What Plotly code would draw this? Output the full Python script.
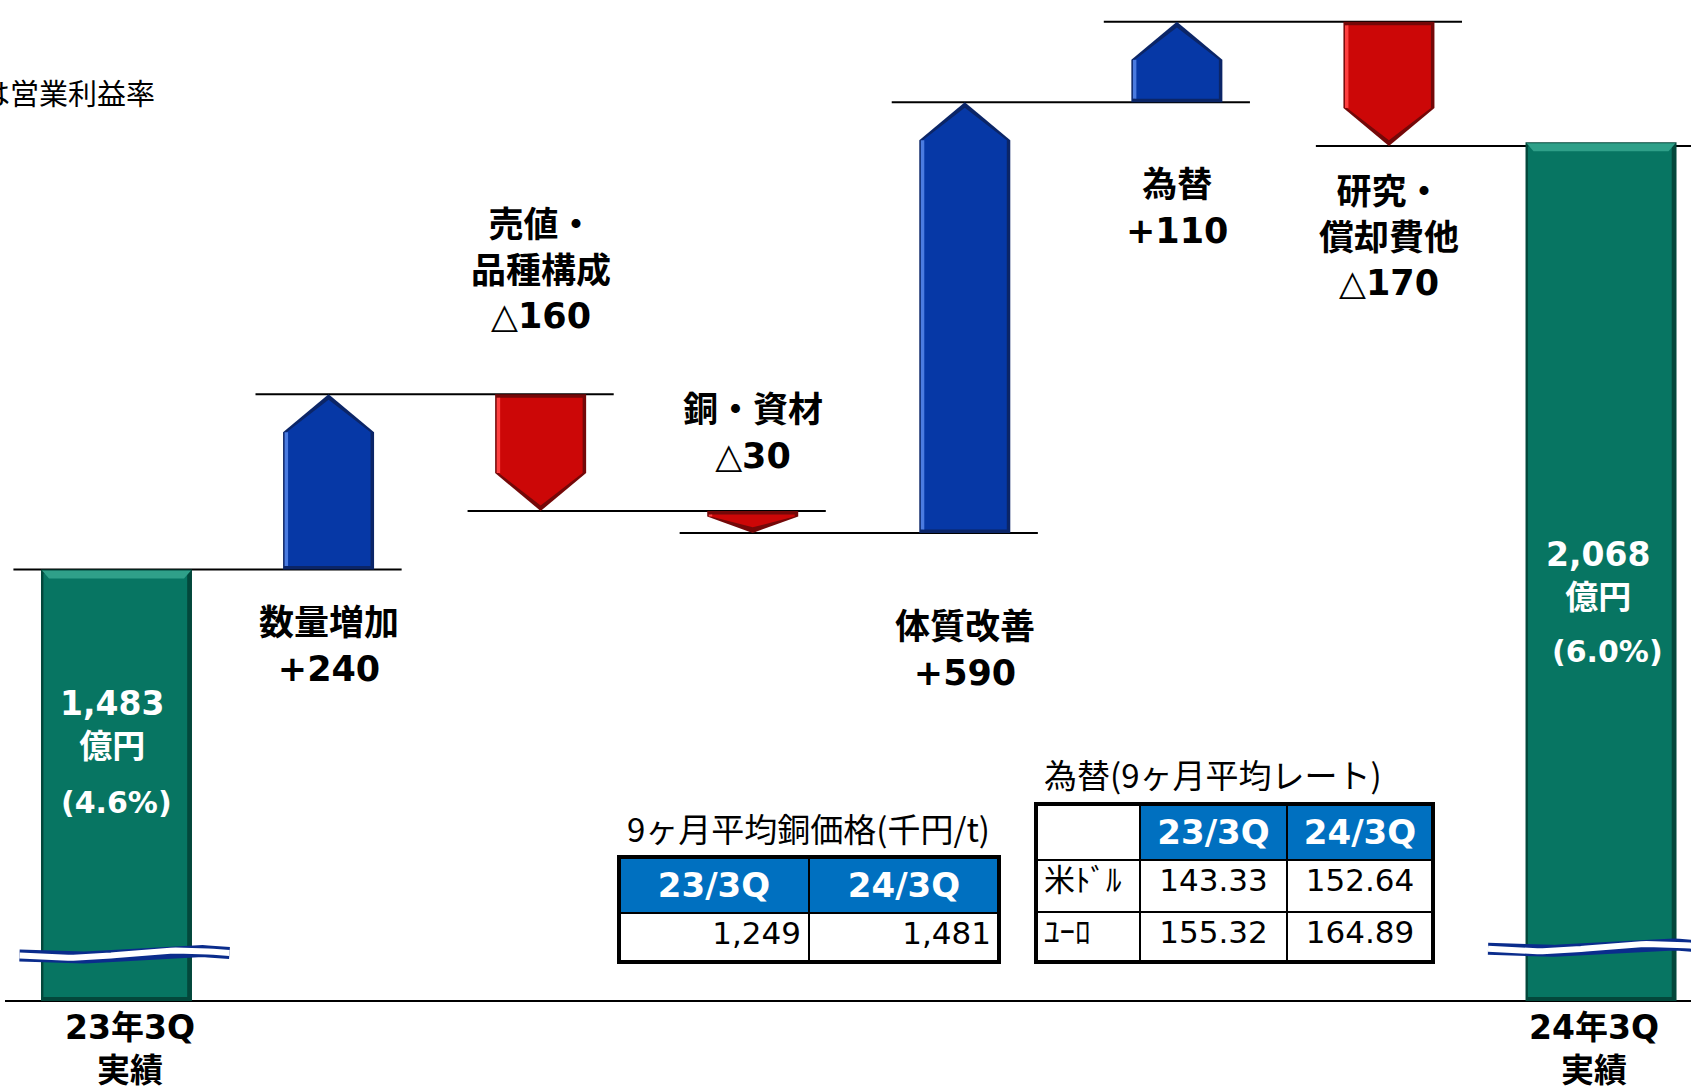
import numpy as np
import plotly.graph_objects as go

# ---------------- data ----------------
start_value = 1483
end_value = 2068
step_names = ["数量増加", "売値・品種構成", "銅・資材", "体質改善", "為替", "研究・償却費他"]
step_deltas = [240, -160, -30, 590, 110, -170]
step_labels = ["数量増加<br>+240", "売値・<br>品種構成<br>△160", "銅・資材<br>△30",
               "体質改善<br>+590", "為替<br>+110", "研究・<br>償却費他<br>△170"]
start_label = "23年3Q<br>実績"
end_label = "24年3Q<br>実績"
start_amount = "1,483<br>億円"
start_rate = "(4.6%)"
end_amount = "2,068<br>億円"
end_rate = "(6.0%)"
note_text = "（　）内は営業利益率"

copper_title = "9ヶ月平均銅価格(千円/t)"
copper_periods = ["23/3Q", "24/3Q"]
copper_prices = ["1,249", "1,481"]

fx_title = "為替(9ヶ月平均レート)"
fx_periods = ["", "23/3Q", "24/3Q"]
fx_currencies = ["米ﾄﾞﾙ", "ﾕｰﾛ"]
fx_rate_2023 = ["143.33", "155.32"]
fx_rate_2024 = ["152.64", "164.89"]

# ---------------- layout constants ----------------
W, H = 1691, 1091
X_RANGE = [-0.5493, 7.4243]
Y_RANGE = [768.6, 2262.9]
AXIS_BASE = 892          # broken-axis baseline value
BREAK_LEVEL = [956, 965]  # where the axis-break squiggle sits
px_x = (X_RANGE[1] - X_RANGE[0]) / W
px_y = (Y_RANGE[1] - Y_RANGE[0]) / H

BLUE = ("#0638A6", "#0B2567", "#4A7BE0")
RED = ("#CC0707", "#740808", "#FF4040")
GREEN = ("#077562", "#03473B", "#2FA089")

ARROW_HW = 45.5 * px_x
HEAD = 38 * px_y
BAR_HW = 75.5 * px_x

fig = go.Figure()


def add_poly(xs, ys, color):
    fig.add_trace(go.Scatter(x=xs, y=ys, mode="lines", fill="toself", fillcolor=color,
                             line=dict(width=0, color=color), hoverinfo="skip", showlegend=False))


def add_bar(xc, top, colors):
    main, dark, light = colors
    xl, xr = xc - BAR_HW, xc + BAR_HW
    add_poly([xl, xl, xr, xr, xl], [AXIS_BASE, top, top, AXIS_BASE, AXIS_BASE], dark)
    d = 4 * px_x
    dv = 4 * px_y
    add_poly([xl + d * 0.6, xl + d * 0.6, xr - d * 1.2, xr - d * 1.2, xl + d * 0.6],
             [AXIS_BASE + dv, top - dv, top - dv, AXIS_BASE + dv, AXIS_BASE + dv], main)
    # top bevel highlight
    add_poly([xl + 1 * px_x, xl + 8 * px_x, xr - 8 * px_x, xr - 1 * px_x, xl + 1 * px_x],
             [top - 1 * px_y, top - 9 * px_y, top - 9 * px_y, top - 1 * px_y, top - 1 * px_y], light)


def add_arrow(xc, y0, y1, colors):
    main, dark, light = colors
    sgn = 1 if y1 > y0 else -1
    head = min(HEAD, 0.75 * abs(y1 - y0))
    ys = y1 - sgn * head
    xl, xr = xc - ARROW_HW, xc + ARROW_HW
    add_poly([xl, xl, xc, xr, xr, xl], [y0, ys, y1, ys, y0, y0], dark)
    d = 3.5 * px_x
    dv = 3.5 * px_y
    add_poly([xl + d, xl + d, xc, xr - d, xr - d, xl + d],
             [y0 + sgn * dv, ys, y1 - sgn * 1.6 * dv, ys, y0 + sgn * dv, y0 + sgn * dv], main)
    # left highlight strip
    add_poly([xl + 1.5 * px_x, xl + 1.5 * px_x, xl + 5 * px_x, xl + 5 * px_x, xl + 1.5 * px_x],
             [y0 + sgn * dv, ys, ys, y0 + sgn * dv, y0 + sgn * dv], light)


n = len(step_deltas)
xpos = np.arange(n + 2)
levels = [start_value]
for dlt in step_deltas:
    levels.append(levels[-1] + dlt)

shapes = []
LINE = dict(color="black", width=2)

# baseline
shapes.append(dict(type="line", xref="x", yref="y", x0=X_RANGE[0] + 5 * px_x, x1=X_RANGE[1],
                   y0=AXIS_BASE, y1=AXIS_BASE, line=LINE, layer="below"))

# start bar
add_bar(xpos[0], start_value, GREEN)

# arrows + connectors
half_widths = [BAR_HW] + [ARROW_HW] * n + [BAR_HW]
ext = 0.13
for i, dlt in enumerate(step_deltas):
    x = xpos[i + 1]
    y0, y1 = levels[i], levels[i + 1]
    add_arrow(x, y0, y1, BLUE if dlt > 0 else RED)
    shapes.append(dict(type="line", xref="x", yref="y",
                       x0=xpos[i] - half_widths[i] - ext, x1=x + ARROW_HW + ext,
                       y0=y0, y1=y0, line=LINE, layer="below"))
shapes.append(dict(type="line", xref="x", yref="y",
                   x0=xpos[n] - ARROW_HW - ext, x1=X_RANGE[1],
                   y0=levels[-1], y1=levels[-1], line=LINE, layer="below"))

# end bar
add_bar(xpos[-1], end_value, GREEN)

# axis-break squiggles
for xc, lvl, x_a, x_b in [(xpos[0], BREAK_LEVEL[0], -97 * px_x, 113 * px_x),
                          (xpos[-1], BREAK_LEVEL[1], -113 * px_x, 100 * px_x)]:
    t = np.linspace(0, 1, 40)
    xs = xc + x_a + (x_b - x_a) * t
    ys = lvl + (-2.5 * np.sin(2 * np.pi * t) + 2.0 * (t - 0.5)) * px_y * 1.2
    fig.add_trace(go.Scatter(x=xs, y=ys, mode="lines", line=dict(color="#0A2C8C", width=12),
                             hoverinfo="skip", showlegend=False))
    fig.add_trace(go.Scatter(x=xs, y=ys, mode="lines", line=dict(color="white", width=6),
                             hoverinfo="skip", showlegend=False))

# ---------------- annotations ----------------
BOLD = "DejaVu Sans, Noto Sans CJK JP, sans-serif"
ann = []


def ypap(px):
    return 1 - px / H


def add_text(x, ypx, text, size, color="black", xref="x", xshift=0, xanchor="center", family=BOLD):
    ann.append(dict(x=x, y=ypap(ypx), xref=xref, yref="paper", xshift=xshift,
                    text=text, showarrow=False, xanchor=xanchor, yanchor="middle",
                    font=dict(family=family, size=size, color=color)))


label_centers = [646, 270, 433, 650, 208, 238]
for i, lab in enumerate(step_labels):
    add_text(xpos[i + 1], label_centers[i], "<b>" + lab + "</b>", 35)

add_text(xpos[0], 725, "<b>" + start_amount + "</b>", 33, "white", xshift=-4)
add_text(xpos[0], 802, "<b>" + start_rate + "</b>", 30, "white", xshift=0)
add_text(xpos[-1], 576, "<b>" + end_amount + "</b>", 33, "white", xshift=-3)
add_text(xpos[-1], 651, "<b>" + end_rate + "</b>", 30, "white", xshift=6)
add_text(xpos[0], 1049, "<b>" + start_label + "</b>", 33, xshift=14)
add_text(xpos[-1], 1049, "<b>" + end_label + "</b>", 33, xshift=-7)
add_text(157 / W, 92, note_text, 29, xref="paper", xanchor="right", family="Noto Sans CJK JP")

TFONT = "DejaVu Sans, Noto Sans CJK JP"
add_text(808 / W, 828, copper_title, 33, xref="paper", family="Noto Sans CJK JP")
add_text(1213 / W, 774, fx_title, 33, xref="paper", family="Noto Sans CJK JP")

# ---------------- tables ----------------
HDR = "#0070C0"
fig.add_trace(go.Table(
    domain=dict(x=[619 / W, 999 / W], y=[ypap(962), ypap(857)]),
    columnwidth=[1, 1],
    header=dict(values=["<b>%s</b>" % v for v in copper_periods], fill_color=HDR,
                align="center", height=52, line=dict(color="black", width=2),
                font=dict(family=TFONT, size=34, color="white")),
    cells=dict(values=[[v] for v in copper_prices], fill_color="white", align="right", height=53,
               line=dict(color="black", width=2),
               font=dict(family=TFONT, size=31, color="black")),
))
fig.add_trace(go.Table(
    domain=dict(x=[1036 / W, 1433 / W], y=[ypap(962), ypap(804)]),
    columnwidth=[104, 147, 146],
    header=dict(values=["<b>%s</b>" % v if v else "" for v in fx_periods],
                fill_color=["white", HDR, HDR], align="center", height=53,
                line=dict(color="black", width=2),
                font=dict(family=TFONT, size=34, color="white")),
    cells=dict(values=[fx_currencies, fx_rate_2023, fx_rate_2024], fill_color="white",
               align=["left", "center", "center"], height=52,
               line=dict(color="black", width=2),
               font=dict(family=TFONT, size=31, color="black")),
))
for x0, x1, y0, y1 in [(619, 999, 857, 962), (1036, 1433, 804, 962)]:
    shapes.append(dict(type="rect", xref="paper", yref="paper", x0=x0 / W, x1=x1 / W,
                       y0=ypap(y1), y1=ypap(y0), line=dict(color="black", width=4)))

fig.update_layout(
    width=W, height=H, margin=dict(l=0, r=0, t=0, b=0),
    paper_bgcolor="white", plot_bgcolor="white",
    xaxis=dict(range=X_RANGE, visible=False, fixedrange=True),
    yaxis=dict(range=Y_RANGE, visible=False, fixedrange=True),
    shapes=shapes, annotations=ann, showlegend=False,
)

fig.write_html("out.html", config={"displayModeBar": False},
               post_script="document.body.style.margin='0';document.body.style.overflow='hidden';")
